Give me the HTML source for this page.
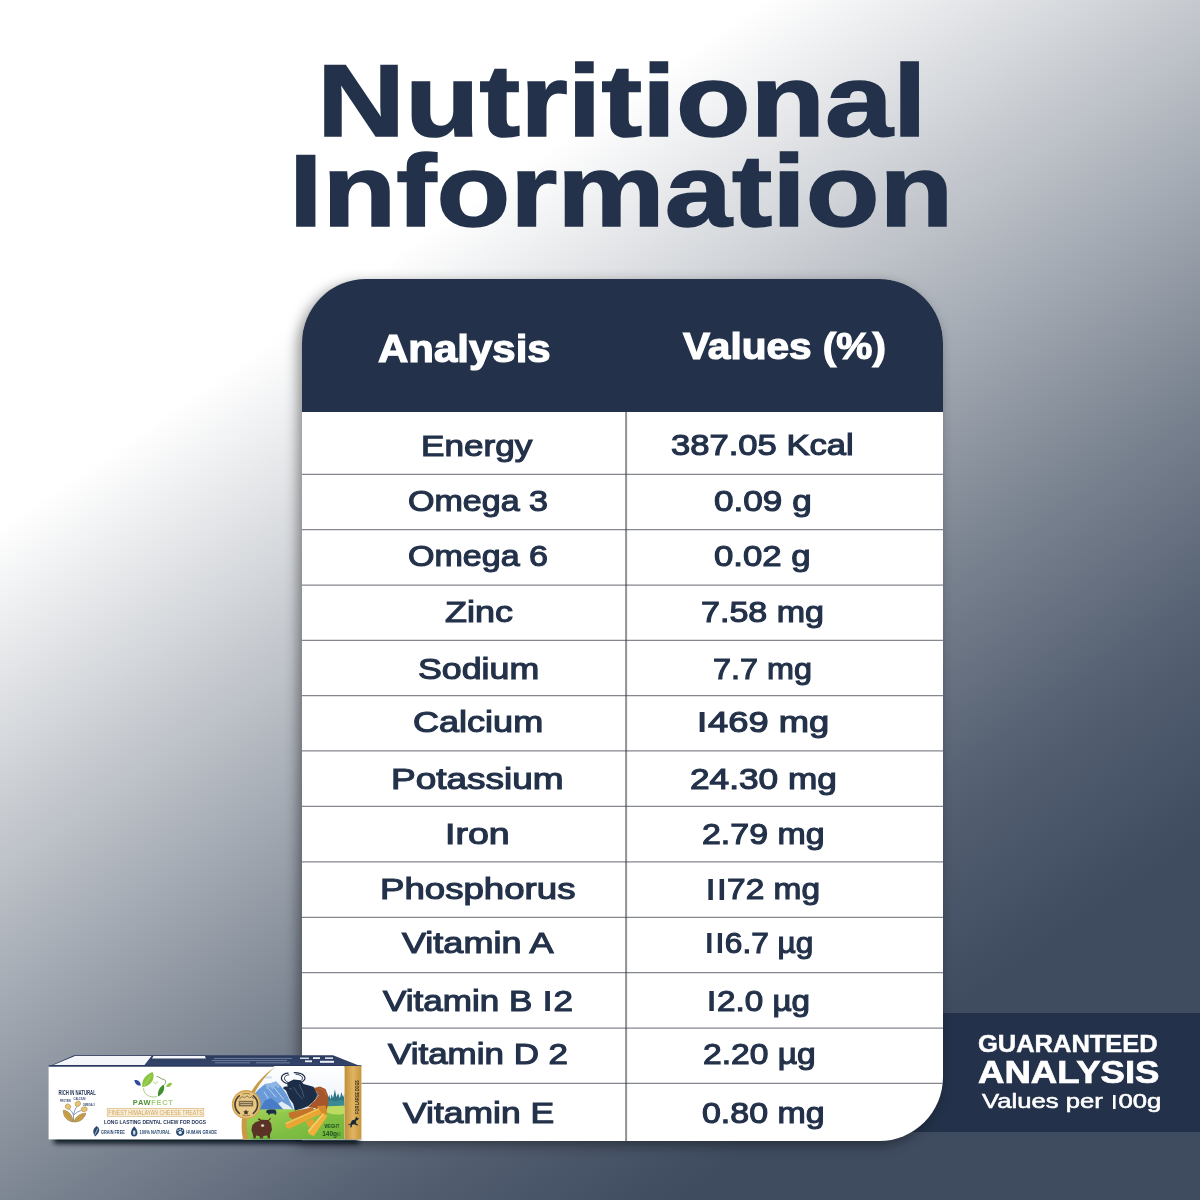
<!DOCTYPE html>
<html><head><meta charset="utf-8"><title>Nutritional Information</title>
<style>
html,body{margin:0;padding:0}
body{width:1200px;height:1200px;overflow:hidden;position:relative;font-family:"Liberation Sans",sans-serif;
background:linear-gradient(145.4deg,#ffffff 0%,#ffffff 26%,rgb(123,132,145) 59.9%,rgb(87,98,116) 70.7%,rgb(73,85,104) 76.9%,#3f4c60 82.1%,#3f4c60 100%)}
.banner{position:absolute;left:880px;top:1012.6px;width:320px;height:119px;background:#23324a}
.card{position:absolute;left:302px;top:279px;width:640.6px;height:862.2px;background:#fff;border-radius:64px 64px 64px 0;box-shadow:-4px 4px 13px rgba(0,0,0,.42);overflow:hidden}
.head{position:absolute;left:0;top:0;width:100%;height:133px;background:#23324a}
.grid{position:absolute;left:0;top:0}

.t{position:absolute;white-space:nowrap;line-height:1;font-family:"Liberation Sans",sans-serif;font-weight:700;transform-origin:0 0;margin:0;padding:0}
.t{color:var(--c)}
.rw{font-weight:400;-webkit-text-stroke:1.15px var(--c)}
.title{-webkit-text-stroke:1.6px var(--c)}
.hd{-webkit-text-stroke:1.2px var(--c)}
.bn1{-webkit-text-stroke:.45px var(--c)}
.bn2{-webkit-text-stroke:.7px var(--c)}
.bn3{font-weight:400;-webkit-text-stroke:.55px var(--c)}
.o{display:inline-block;width:.33em;position:relative;color:transparent;-webkit-text-stroke:0 transparent}
.o::before{content:"";position:absolute;left:.1em;width:.135em;bottom:.1535em;height:.688em;background:var(--c)}

</style></head><body>
<div class="banner"></div>
<div class="card">
<div class="head"></div>
<svg class="grid" width="641" height="863" viewBox="0 0 641 863"><line x1="324.1" y1="133" x2="324.1" y2="863" stroke="rgba(31,39,47,.5)" stroke-width="2"/><line x1="0" y1="195.35" x2="641" y2="195.35" stroke="rgba(50,55,65,.6)" stroke-width="1.25"/><line x1="0" y1="250.60" x2="641" y2="250.60" stroke="rgba(50,55,65,.6)" stroke-width="1.25"/><line x1="0" y1="306.00" x2="641" y2="306.00" stroke="rgba(50,55,65,.6)" stroke-width="1.25"/><line x1="0" y1="361.30" x2="641" y2="361.30" stroke="rgba(50,55,65,.6)" stroke-width="1.25"/><line x1="0" y1="416.60" x2="641" y2="416.60" stroke="rgba(50,55,65,.6)" stroke-width="1.25"/><line x1="0" y1="471.90" x2="641" y2="471.90" stroke="rgba(50,55,65,.6)" stroke-width="1.25"/><line x1="0" y1="527.30" x2="641" y2="527.30" stroke="rgba(50,55,65,.6)" stroke-width="1.25"/><line x1="0" y1="582.80" x2="641" y2="582.80" stroke="rgba(50,55,65,.6)" stroke-width="1.25"/><line x1="0" y1="638.30" x2="641" y2="638.30" stroke="rgba(50,55,65,.6)" stroke-width="1.25"/><line x1="0" y1="693.60" x2="641" y2="693.60" stroke="rgba(50,55,65,.6)" stroke-width="1.25"/><line x1="0" y1="749.00" x2="641" y2="749.00" stroke="rgba(50,55,65,.6)" stroke-width="1.25"/><line x1="0" y1="804.40" x2="641" y2="804.40" stroke="rgba(50,55,65,.6)" stroke-width="1.25"/></svg>
</div>
<svg class="pbox" width="360" height="130" viewBox="30 1035 360 130" style="position:absolute;left:30px;top:1035px;overflow:visible" font-family="Liberation Sans, sans-serif">
<defs>
<filter id="bsh" x="-10%" y="-100%" width="120%" height="300%"><feGaussianBlur stdDeviation="2.6"/></filter>
<filter id="b1" x="-20%" y="-20%" width="140%" height="140%"><feGaussianBlur stdDeviation=".35"/></filter>
<linearGradient id="gold" x1="0" y1="0" x2="1" y2="0"><stop offset="0" stop-color="#c08f38"/><stop offset=".5" stop-color="#e0b461"/><stop offset="1" stop-color="#c6953d"/></linearGradient>
<linearGradient id="sky" x1="0" y1="0" x2="0" y2="1"><stop offset="0" stop-color="#ffffff"/><stop offset=".35" stop-color="#f2f7fc"/><stop offset="1" stop-color="#bcd6ef"/></linearGradient>
<linearGradient id="grass" x1="0" y1="0" x2="1" y2="1"><stop offset="0" stop-color="#a9d45a"/><stop offset=".6" stop-color="#7fbf43"/><stop offset="1" stop-color="#6fb33b"/></linearGradient>
<linearGradient id="topf" x1="0" y1="0" x2="0" y2="1"><stop offset="0" stop-color="#2b3b5e"/><stop offset="1" stop-color="#35466b"/></linearGradient>
<clipPath id="shc"><rect x="30" y="1139.200" width="334" height="30"/></clipPath>
<clipPath id="scene"><path d="M274.5,1066 C257,1079 238,1104 243.5,1139.4 L344.6,1139.4 L344.6,1066 Z"/></clipPath>
</defs>
<!-- ground shadow -->
<g clip-path="url(#shc)"><rect x="54" y="1131" width="305" height="12.500" fill="#060a12" opacity=".92" filter="url(#bsh)"/></g>
<g id="boxg" filter="url(#b1)">
<!-- top face -->
<polygon points="48.6,1066.4 74,1055.2 333,1055.2 361.4,1066.4" fill="url(#topf)"/>
<polygon points="53.5,1065 75,1056 151.5,1056 144.5,1065" fill="#f4f6fa"/>
<polygon points="153.5,1056 205,1056 205.8,1058.6 152,1058.6" fill="#f4f6fa"/>
<g stroke="#8e9bb8" stroke-width=".9" opacity=".75" fill="none">
<path d="M214,1058.4H292M212,1060.6H287M215,1062.8H250M256,1062.8H290"/>
</g>
<g fill="#eef1f7"><rect x="300" y="1057.6" width="9" height="1.3"/><rect x="313" y="1057.2" width="7" height="1.8"/><rect x="325" y="1057.4" width="8" height="1.5"/><rect x="305" y="1060.4" width="7" height="1.8"/><rect x="320" y="1060.8" width="14" height="2"/></g>
<!-- front face -->
<rect x="48.6" y="1066" width="312.8" height="73.4" fill="#ffffff"/>
<rect x="48.6" y="1065.3" width="312.8" height="1.4" fill="#27365a"/>
<!-- scene -->
<g clip-path="url(#scene)">
<rect x="236" y="1066" width="110" height="74" fill="url(#sky)"/>
<polygon points="253.4,1095.0 258.4,1089.5 265.0,1084.0 269.9,1083.5 276.0,1081.6 280.4,1085.7 283.7,1090.0 287.0,1095.0 291.9,1106.0 293.6,1109.8 253.4,1109.8" fill="#6a9bd8"/>
<polygon points="265.0,1084.0 269.9,1083.5 276.0,1081.6 280.4,1085.7 278.2,1088.4 275.4,1085.7 272.7,1089.5 269.9,1086.8 267.2,1089.5" fill="#8fb5e3"/>
<polygon points="259.5,1109.8 265.0,1100.5 271.6,1098.3 278.2,1103.8 283.7,1109.8" fill="#4a7cc6"/>
<polygon points="278.2,1103.8 281.5,1101.6 289.2,1106.0 293.1,1109.8 283.7,1109.8" fill="#e3ebf3"/>
<path d="M268.3,1088.4 L276.0,1097.2 M273.8,1087.3 L283.7,1099.4 M263.9,1091.7 L268.3,1098.3" stroke="#c3d8f0" stroke-width=".9" fill="none"/>
<ellipse cx="268.3" cy="1077.4" rx="4" ry="1.2" fill="#cfe0f2"/>
<polygon points="327.5,1106.5 327.5,1098.3 329.4,1095.0 330.4,1099.4 331.6,1093.9 333.0,1098.3 334.9,1089.5 336.5,1097.2 338.1,1093.3 339.8,1098.3 341.4,1092.2 343.1,1097.2 344.4,1093.9 344.4,1106.5" fill="#2f7686"/>
<polygon points="327.5,1106.5 327.5,1101.6 331.0,1100.0 335.4,1101.6 339.8,1100.0 344.4,1101.0 344.4,1106.5" fill="#3b8a92"/>
<path d="M236.4,1111.0 Q265.0,1108.8 293.6,1109.5 T327.7,1106.2 L344.4,1105.8 L344.4,1139.5 L236.4,1139.5Z" fill="url(#grass)"/>
<path d="M320.0,1108.2 Q331.0,1105.5 344.4,1105.8 L344.4,1113.7 Q331.0,1117.0 320.0,1108.2Z" fill="#c3de63" opacity=".9"/>
<path d="M254.0,1111.5 Q273.8,1109.3 293.6,1110.4 Q273.8,1113.7 254.0,1111.5Z" fill="#9ad052" opacity=".9"/>
<path d="M266.1,1111.7 Q266.6,1109.5 269.9,1109.5 L274.4,1109.5 Q276.6,1110.0 276.4,1112.6 L276.0,1114.8 L274.7,1114.8 L274.5,1113.5 L269.9,1113.7 L269.7,1114.8 L268.3,1114.8 L268.1,1113.2 Q266.1,1113.2 266.1,1111.7Z" fill="#1f2d47"/>
<path d="M286.8,1083.6 C277.6,1079.6 281.5,1073.4 288.5,1073.2" fill="none" stroke="#1f2d47" stroke-width="1.2"/>
<path d="M288.6,1082.7 C281.7,1079.4 284.4,1075.0 289.4,1074.8" fill="none" stroke="#1f2d47" stroke-width="0.9"/>
<path d="M301.1,1082.5 C309.0,1078.5 304.1,1072.6 293.8,1072.7" fill="none" stroke="#1f2d47" stroke-width="1.2"/>
<path d="M299.3,1081.8 C305.5,1078.5 301.7,1074.5 295.6,1074.2" fill="none" stroke="#1f2d47" stroke-width="0.9"/>
<polygon points="287.0,1082.7 293.6,1079.6 300.4,1080.2 303.5,1084.0 313.4,1086.8 319.1,1093.9 316.7,1098.3 313.4,1101.8 307.9,1106.2 302.4,1108.4 294.9,1110.6 293.2,1103.8 289.2,1098.3 286.1,1090.8 282.8,1088.0 284.8,1086.4 287.6,1086.6" fill="#1f2d47"/>
<path d="M299.1,1084.0 Q302.4,1090.6 304.1,1097.2 M293.6,1087.3 Q298.0,1095.0 302.4,1098.8 M289.2,1088.4 L291.9,1089.1" fill="none" stroke="#6d7fa3" stroke-width=".55"/>
<polygon points="313.9,1088.0 320.0,1086.4 325.5,1089.0 327.9,1095.0 328.4,1103.8 325.7,1112.8 320.0,1113.7 315.6,1108.2 307.9,1107.1 313.6,1101.8 319.1,1095.0 315.8,1090.8" fill="#a5562a"/>
<path d="M315.8,1090.8 Q320.0,1095.0 313.6,1101.8" fill="none" stroke="#e9d6c4" stroke-width=".6"/>
<path d="M318.9,1088.4 Q324.4,1089.5 326.1,1095.0" fill="none" stroke="#c57a45" stroke-width=".7"/>
<polygon points="288.6,1112.8 312.9,1107.1 314.5,1111.0 292.3,1119.2 289.2,1117.0" fill="#c4732a"/>
<polygon points="317.2,1106.0 325.5,1105.5 327.3,1113.7 320.0,1115.9" fill="#d48a2c"/>
<polygon points="285.4,1123.0 318.4,1108.2 321.8,1113.5 289.2,1128.7 285.9,1127.6" fill="#e9a631"/>
<polygon points="285.4,1123.0 318.4,1108.2 319.1,1109.5 285.9,1124.5" fill="#f3c25a"/>
<polygon points="305.7,1121.4 313.2,1118.7 315.2,1124.9 309.0,1127.6" fill="#e4a030"/>
<polygon points="307.9,1130.8 322.8,1113.2 327.5,1116.1 313.9,1135.9 309.0,1134.2" fill="#f0b23c"/>
<polygon points="307.9,1130.8 322.8,1113.2 324.0,1113.9 309.2,1131.7" fill="#f7cf70"/>
<polygon points="258.9,1117.9 257.9,1119.8 260.1,1120.8 255.7,1122.0 252.3,1125.2 251.4,1130.2 252.9,1134.6 253.6,1138.5 255.7,1138.5 256.0,1135.5 259.5,1136.2 260.1,1139.0 262.8,1139.0 263.4,1135.9 267.2,1135.5 267.8,1138.5 269.9,1138.5 270.1,1134.0 272.0,1129.7 271.1,1123.6 268.9,1120.8 270.7,1119.2 270.5,1117.5 268.3,1120.1 261.1,1119.8" fill="#5a3326"/>
<ellipse cx="262.6" cy="1125.6" rx="1.6" ry="1.3" fill="#e7d3cb"/>
<ellipse cx="261.7" cy="1139.0" rx="11" ry="1.2" fill="#4f9a35" opacity=".7"/>
<!-- weight text -->
<text x="324.400" y="1128.100" font-size="4.800" font-weight="700" fill="#1e4d22" textLength="14.900" lengthAdjust="spacingAndGlyphs">WEIGHT</text>
<text x="322.200" y="1135.600" font-size="7" font-weight="700" fill="#1e4d22" textLength="18.700" lengthAdjust="spacingAndGlyphs">140g&#8494;</text>
</g>
<!-- gold crescent -->
<path d="M275.600,1066.400 C256,1080 236.200,1104 243,1139.400 L248.600,1139.400 C241.500,1108 258,1082 274.600,1067.600 Z" fill="#c99a45"/>
<!-- medallion -->
<circle cx="246.300" cy="1104.600" r="14.500" fill="#d6a64f"/>
<circle cx="246.300" cy="1104.600" r="13.100" fill="#e7c57e"/>
<path d="M239.82,1113.86 A11.3,11.3 0 0 1 239.82,1095.34 M252.78,1095.34 A11.3,11.3 0 0 1 252.78,1113.86" fill="none" stroke="#4a4134" stroke-width="1.700"/><path d="M242.44,1093.98 A11.3,11.3 0 0 1 250.16,1093.98 M250.16,1115.22 A11.3,11.3 0 0 1 242.44,1115.22" fill="none" stroke="#7a6540" stroke-width=".700"/>
<circle cx="246.300" cy="1104.600" r="9.400" fill="#e9c987"/>
<path d="M239.500,1098.800 l3,-2.200 2,1.200 2.500,-2 2.500,2 2,-1 2.500,2" fill="none" stroke="#5a4a30" stroke-width=".7"/>
<rect x="238.800" y="1100.800" width="14.400" height="5.600" fill="#6b5a3a" opacity=".85"/>
<path d="M240,1102.500h12M240.500,1104.500h11" stroke="#ecd9a8" stroke-width=".6"/>
<path d="M246,1109.500 l.9,1.800 2,.2 -1.500,1.300 .4,2 -1.800,-1 -1.800,1 .4,-2 -1.500,-1.300 2,-.2z" fill="#3d3426"/>
<!-- gold stripe -->
<rect x="344.600" y="1066" width="16.800" height="73.400" fill="url(#gold)"/>
<text transform="translate(359.400,1113.700) rotate(-90)" font-size="6.200" font-weight="700" fill="#2c2a22" textLength="33.500" lengthAdjust="spacingAndGlyphs">FOR LARGE DOGS</text>
<path d="M348,1124.800 l2.600,-1.200 1.200,-3 3.200,-1 1.200,-3.200 1.200,1.600 1.600,.2 -1.200,1.800 -1.600,.6 -.2,2.600 2.400,1.800 -1.200,.6 -3,-1.400 -2,.6 -.8,2.600 -1.200,-.2 .2,-2.600 -2,.6z" fill="#1f2a38"/>
<!-- logo -->
<path d="M152.500,1072 C156,1078 151,1086 142.400,1087.300 C141,1080 146,1074.500 152.500,1072Z" fill="#8bc53f"/>
<path d="M143.500,1086.500 L151,1075.500" stroke="#c8e89a" stroke-width=".6"/>
<path d="M134.300,1080.200 C137.500,1079.400 140.600,1081.600 140.800,1085.400 C137.400,1086 134.800,1083.600 134.300,1080.200Z" fill="#2e4a9c"/>
<path d="M163.800,1084.800 C165.200,1089 163,1094.500 158,1096.400 C157.400,1091.500 159.500,1086.800 163.800,1084.800Z" fill="#3f8e2f"/>
<path d="M166.200,1086.800 C167.200,1083.600 170,1082.400 172,1083 C171.400,1086 169,1087.600 166.200,1086.800Z" fill="#8bc53f"/>
<path d="M143.600,1088.200 C143.400,1094 149.500,1098.400 157.200,1096.600" fill="none" stroke="#86b44e" stroke-width=".7"/>
<path d="M156.600,1076.600 C159.500,1076.400 160.500,1079 163,1079.200 C166,1079.600 166.500,1082.500 164.400,1084.600" fill="none" stroke="#4f7a3a" stroke-width=".7"/>
<path d="M153.800,1081.500 C154.200,1084.500 157.200,1084.500 157.200,1081" fill="none" stroke="#86b44e" stroke-width=".6"/>
<text x="132.800" y="1104.700" font-size="6.400" font-weight="700" letter-spacing=".6" textLength="40.800" lengthAdjust="spacingAndGlyphs"><tspan fill="#4f8f3b">PAW</tspan><tspan fill="#a3cf7a">FECT</tspan></text>
<!-- tan title -->
<rect x="107.200" y="1108.400" width="96.600" height="7.900" fill="#f8eedb" stroke="#dcb777" stroke-width=".7"/>
<text x="108.300" y="1115" font-size="6.800" fill="#cfa65c" textLength="94.400" lengthAdjust="spacingAndGlyphs">FINEST HIMALAYAN CHEESE TREATS</text>
<text x="104" y="1123.500" font-size="5.400" font-weight="700" fill="#26355a" textLength="102" lengthAdjust="spacingAndGlyphs">LONG LASTING DENTAL CHEW FOR DOGS</text>
<!-- icon row -->
<g fill="#2b4a72">
<path d="M96.600,1126 q2.600,1.600 2.800,4 q-.2,2.800 -3.200,5.400 l-1.200,1 q-2.200,-3 -1.800,-5.800 q.6,-2.600 3.400,-4.600z"/>
<path d="M134.200,1126.200 q3.600,4 3.200,7.400 q-.4,2.800 -3.200,3 q-2.800,-.2 -3.200,-3 q-.4,-3.400 3.200,-7.400z"/>
<circle cx="180.200" cy="1131.800" r="4.100"/>
</g>
<path d="M95,1134.500 L97.800,1128.500" stroke="#dfe8f2" stroke-width=".7"/>
<ellipse cx="134.200" cy="1132.600" rx="1.300" ry="2.300" fill="#cfdbe8"/>
<circle cx="180.200" cy="1132.600" r="1.700" fill="#e8eef5"/><circle cx="178" cy="1130.200" r=".8" fill="#e8eef5"/><circle cx="180.200" cy="1129.400" r=".8" fill="#e8eef5"/><circle cx="182.400" cy="1130.200" r=".8" fill="#e8eef5"/>
<g font-size="5.600" font-weight="700" fill="#2b4a72">
<text x="101" y="1133.600" textLength="23.800" lengthAdjust="spacingAndGlyphs">GRAIN FREE</text>
<text x="139.400" y="1133.600" textLength="31.200" lengthAdjust="spacingAndGlyphs">100% NATURAL</text>
<text x="186.300" y="1133.600" textLength="30.600" lengthAdjust="spacingAndGlyphs">HUMAN GRADE</text>
</g>
<!-- rich in natural -->
<text x="58.500" y="1095.100" font-size="6.300" font-weight="700" fill="#27365a" textLength="37.300" lengthAdjust="spacingAndGlyphs">RICH IN NATURAL</text>
<g font-size="3.200" font-weight="700" fill="#3a4a70">
<text x="73.500" y="1099.700" textLength="12" lengthAdjust="spacingAndGlyphs">CALCIUM</text>
<text x="60" y="1102.300" textLength="10.800" lengthAdjust="spacingAndGlyphs">PROTEIN</text>
<text x="82.800" y="1106" textLength="12" lengthAdjust="spacingAndGlyphs">OMEGA 3</text>
</g>
<g fill="none" stroke="#6f87ad" stroke-width=".8"><path d="M68.500,1108.500 Q72,1110.500 73.500,1115 M77.200,1105.500 Q74.500,1109.500 73.500,1115 M82.500,1110 Q77,1111.500 73.500,1115 M73.500,1115 V1121.500"/></g>
<g fill="#e2c47c" stroke="#b8923f" stroke-width=".6"><ellipse cx="68" cy="1106.600" rx="2.800" ry="2.500" transform="rotate(35 68 1106.600)"/><ellipse cx="77.800" cy="1103.800" rx="2.900" ry="2.500" transform="rotate(-40 77.800 1103.800)"/><ellipse cx="84.200" cy="1109.200" rx="3.100" ry="2.400" transform="rotate(-10 84.200 1109.200)"/></g>
<path d="M63.300,1110.300 C68.500,1110.500 73,1115.500 73,1122 C67,1121 63,1116.500 63.300,1110.300Z" fill="#c9a24c" stroke="#8a6a2c" stroke-width=".5"/>
<path d="M85.800,1113.200 C81,1113 75,1116.500 73.800,1122 C80,1122 84.800,1118.500 85.800,1113.200Z" fill="#c9a24c" stroke="#8a6a2c" stroke-width=".5"/>
<path d="M65.500,1112.500 L72,1120.500 M84,1114.500 L75,1121" stroke="#7a5a22" stroke-width=".5" stroke-dasharray=".8 .8"/>
</g>
</svg>

<div class="t title" style="left:317.28px;top:50.20px;font-size:102.8px;--c:#23324a;transform:scaleX(1.1863)">Nutritional</div>
<div class="t title" style="left:289.45px;top:140.20px;font-size:102.8px;--c:#23324a;transform:scaleX(1.1751)">Information</div>
<div class="t hd" style="left:377.90px;top:330.40px;font-size:38.0px;--c:#fff;transform:scaleX(1.1045)">Analysis</div>
<div class="t hd" style="left:682.50px;top:327.90px;font-size:37.0px;--c:#fff;transform:scaleX(1.0965)">Values (%)</div>
<div class="t rw" style="left:420.89px;top:430.68px;font-size:29.8px;--c:#23324a;transform:scaleX(1.1801)">Energy</div>
<div class="t rw" style="left:671.34px;top:430.18px;font-size:29.8px;--c:#23324a;transform:scaleX(1.1613)">387.05 Kcal</div>
<div class="t rw" style="left:407.61px;top:485.68px;font-size:29.8px;--c:#23324a;transform:scaleX(1.1426)">Omega 3</div>
<div class="t rw" style="left:713.82px;top:485.68px;font-size:29.8px;--c:#23324a;transform:scaleX(1.1790)">0.09 g</div>
<div class="t rw" style="left:407.61px;top:541.42px;font-size:29.8px;--c:#23324a;transform:scaleX(1.1426)">Omega 6</div>
<div class="t rw" style="left:714.33px;top:541.42px;font-size:29.8px;--c:#23324a;transform:scaleX(1.1667)">0.02 g</div>
<div class="t rw" style="left:444.50px;top:597.42px;font-size:29.8px;--c:#23324a;transform:scaleX(1.2054)">Zinc</div>
<div class="t rw" style="left:701.36px;top:597.42px;font-size:29.8px;--c:#23324a;transform:scaleX(1.1429)">7.58 mg</div>
<div class="t rw" style="left:417.55px;top:654.42px;font-size:29.8px;--c:#23324a;transform:scaleX(1.1995)">Sodium</div>
<div class="t rw" style="left:712.66px;top:654.42px;font-size:29.8px;--c:#23324a;transform:scaleX(1.0871)">7.7 mg</div>
<div class="t rw" style="left:413.04px;top:706.92px;font-size:29.8px;--c:#23324a;transform:scaleX(1.2095)">Calcium</div>
<div class="t rw" style="left:695.84px;top:706.92px;font-size:29.8px;--c:#23324a;transform:scaleX(1.2190)"><span class="o">1</span>469 mg</div>
<div class="t rw" style="left:391.27px;top:763.67px;font-size:29.8px;--c:#23324a;transform:scaleX(1.2408)">Potassium</div>
<div class="t rw" style="left:689.57px;top:763.92px;font-size:29.8px;--c:#23324a;transform:scaleX(1.1824)">24.30 mg</div>
<div class="t rw" style="left:445.48px;top:819.42px;font-size:29.8px;--c:#23324a;transform:scaleX(1.2604)">Iron</div>
<div class="t rw" style="left:701.86px;top:819.42px;font-size:29.8px;--c:#23324a;transform:scaleX(1.1381)">2.79 mg</div>
<div class="t rw" style="left:380.04px;top:874.42px;font-size:29.8px;--c:#23324a;transform:scaleX(1.2292)">Phosphorus</div>
<div class="t rw" style="left:704.63px;top:874.42px;font-size:29.8px;--c:#23324a;transform:scaleX(1.1224)"><span class="o">1</span><span class="o">1</span>72 mg</div>
<div class="t rw" style="left:402.00px;top:928.17px;font-size:29.8px;--c:#23324a;transform:scaleX(1.2083)">Vitamin A</div>
<div class="t rw" style="left:703.82px;top:928.17px;font-size:29.8px;--c:#23324a;transform:scaleX(1.0606)"><span class="o">1</span><span class="o">1</span>6.7 µg</div>
<div class="t rw" style="left:383.25px;top:986.17px;font-size:29.8px;--c:#23324a;transform:scaleX(1.1755)">Vitamin B <span class="o">1</span>2</div>
<div class="t rw" style="left:706.15px;top:986.17px;font-size:29.8px;--c:#23324a;transform:scaleX(1.1152)"><span class="o">1</span>2.0 µg</div>
<div class="t rw" style="left:388.00px;top:1038.92px;font-size:29.8px;--c:#23324a;transform:scaleX(1.1732)">Vitamin D 2</div>
<div class="t rw" style="left:702.62px;top:1038.92px;font-size:29.8px;--c:#23324a;transform:scaleX(1.1276)">2.20 µg</div>
<div class="t rw" style="left:402.50px;top:1097.67px;font-size:29.8px;--c:#23324a;transform:scaleX(1.1905)">Vitamin E</div>
<div class="t rw" style="left:701.86px;top:1097.67px;font-size:29.8px;--c:#23324a;transform:scaleX(1.1381)">0.80 mg</div>
<div class="t bn1" style="left:977.89px;top:1033.43px;font-size:23.0px;--c:#fff;transform:scaleX(1.1075)">GUARANTEED</div>
<div class="t bn2" style="left:978.49px;top:1057.05px;font-size:31.5px;--c:#fff;transform:scaleX(1.1607)">ANALYSIS</div>
<div class="t bn3" style="left:981.80px;top:1092.02px;font-size:19.8px;--c:#fff;transform:scaleX(1.2971)">Values per <span class="o">1</span>00g</div>
</body></html>
